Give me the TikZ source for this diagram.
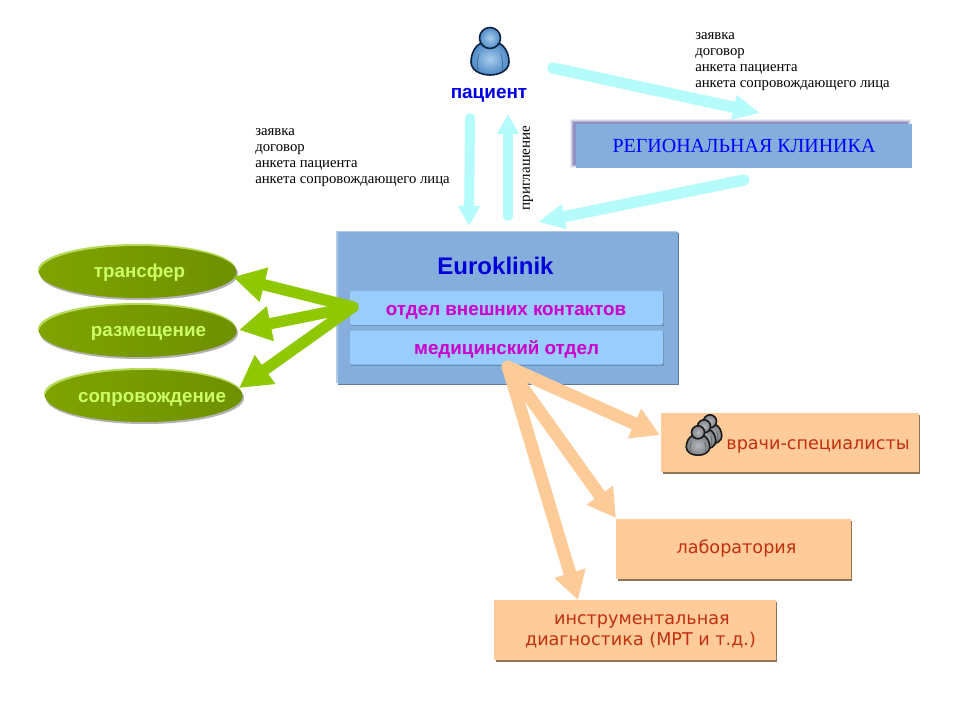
\documentclass[tikz,border=0pt]{standalone}
\usepackage{fontspec}
\setmainfont{Liberation Serif}
\setsansfont{Liberation Sans}
\newfontfamily\verd{DejaVu Sans}
\usetikzlibrary{arrows.meta,shadings,shapes.geometric}
\definecolor{cyanarrow}{HTML}{B5FBFC}
\definecolor{greenarrow}{HTML}{8FC800}
\definecolor{orangearrow}{HTML}{FCCB98}
\definecolor{boxblue}{HTML}{85AEDC}
\definecolor{subblue}{HTML}{99CCFF}
\definecolor{olive}{HTML}{7FA300}
\definecolor{olivedark}{HTML}{6F9000}
\definecolor{limetext}{HTML}{CCFF66}
\definecolor{peach}{HTML}{FFCC99}
\definecolor{peachedge}{HTML}{8F7355}
\definecolor{rust}{HTML}{C03010}
\definecolor{magentatext}{HTML}{CC00CC}
\definecolor{blueIn}{HTML}{A6CCEC}
\definecolor{blueOut}{HTML}{4F8BC6}
\definecolor{blueLine}{HTML}{0E2344}
\definecolor{grayIn}{HTML}{B4B8BC}
\definecolor{grayOut}{HTML}{7E8286}
\definecolor{grayLine}{HTML}{1A1A1A}
\tikzset{
  x=0.75pt,y=-0.75pt,
  cyanline/.style={draw=cyanarrow,line width=7.5pt,line cap=round,-{Triangle[length=15pt,width=15.5pt]}},
  cyanslant/.style={draw=cyanarrow,line width=8.5pt,line cap=round,-{Triangle[length=20pt,width=17.5pt]}},
  greenline/.style={draw=greenarrow,line width=8.5pt,line cap=round,-{Triangle[length=24pt,width=25pt]}},
  orangeline/.style={draw=orangearrow,line width=9.5pt,line cap=round,-{Triangle[length=21pt,width=23pt]}},
  blob/.style={ellipse,minimum width=148pt,minimum height=39pt,inner sep=0pt,left color=olive,right color=olivedark},
  blobtext/.style={inner sep=0pt,text=limetext,text height=7pt,text depth=0pt,font=\sffamily\bfseries\fontsize{14.1}{16}\selectfont},
  peachbox/.style={rectangle,fill=peach,inner sep=0pt},
  peachtext/.style={inner sep=0pt,text=rust,font=\verd\fontsize{13.2}{15.75}\selectfont},
  subbox/.style={rectangle,rounded corners=1.5pt,fill=subblue,inner sep=0pt,minimum width=234.75pt,minimum height=25.5pt},
  subtext/.style={inner sep=0pt,text=magentatext,text height=7pt,text depth=0pt,font=\sffamily\bfseries\fontsize{14.1}{16}\selectfont},
  doc/.style={align=left,inner sep=0pt,font=\fontsize{11.05}{12}\selectfont,anchor=north west},
  pics/personicon/.style={code={
    \draw[draw=#1Line,line width=1.2pt,inner color=#1In,outer color=#1Out]
      (-8,-9) .. controls (-15,-7) and (-19,2) .. (-19,10)
      .. controls (-19,18) and (-10,23) .. (0,23)
      .. controls (10,23) and (19,18) .. (19,10)
      .. controls (19,2) and (15,-7) .. (8,-9) -- cycle;
    \draw[draw=#1Out!80!black,line width=.6pt] (-11,2) .. controls (-13,8) and (-13,14) .. (-12,19);
    \draw[draw=#1Out!80!black,line width=.6pt] (11,2) .. controls (13,8) and (13,14) .. (12,19);
    \draw[draw=#1Line,line width=1.2pt,inner color=#1In,outer color=#1Out] (0,-14) circle [radius=10.5];
  }}
}
\begin{document}
\begin{tikzpicture}
\useasboundingbox[fill=white] (0,0) rectangle (960,720);

% regional clinic
\foreach \g/\o in {3/.07,2/.1,1/.14,0/.2}{
  \fill[blue!45!black,opacity=\o] (573-\g,122-\g) rectangle (908+\g,165+\g);
}
\node[rectangle,minimum width=252pt,minimum height=33pt,inner sep=0pt,fill=boxblue] (reg) at (744,146) {};
\node[inner sep=0pt,text=blue,text height=7pt,text depth=0pt,font=\fontsize{15}{16}\selectfont] (regtext) at (744,148) {РЕГИОНАЛЬНАЯ КЛИНИКА};

% Euroklinik
\fill[boxblue!70!black] (338,233) rectangle (679,385);
\fill[boxblue!65!white] (336,231) rectangle (677,383);
\node[rectangle,minimum width=255pt,minimum height=113.25pt,inner sep=0pt,fill=boxblue] (euro) at (507.5,308) {};
\node[font=\sffamily\bfseries\fontsize{18}{20}\selectfont,text=blue!85!black,inner sep=0pt] (eurotitle) at (495.5,266) {Euroklinik};

\fill[subblue!70!black] (351,293) rectangle (664,326);
\fill[subblue!70!black] (351,332) rectangle (664,366);
\node[subbox] (ext) at (506.5,308) {};
\node[subbox] (med) at (506.5,347.5) {};
\node[subtext] (exttext) at (506,311) {отдел внешних контактов};
\node[subtext] (medtext) at (506.5,349.5) {медицинский отдел};

% ellipses
\foreach \n/\cx/\cy/\tx/\ty/\t in {transfer/138/272/139.5/273/трансфер,razm/138/331/148.5/332/размещение,sopr/144/396/152/397.5/сопровождение}{
  \fill[black!30] (\cx+1,\cy+2) ellipse [x radius=99,y radius=26];
  \fill[greenarrow!65!white] (\cx-1,\cy-2) ellipse [x radius=99,y radius=26];
  \node[blob] (\n) at (\cx,\cy) {};
  \node[blobtext] (\n text) at (\tx,\ty) {\t};
}

% peach boxes
\fill[peachedge] (663,415) rectangle (920,474);
\node[peachbox,minimum width=193.5pt,minimum height=44.5pt] (vrachi) at (790,442.5) {};
\node[peachtext] (vrachitext) at (818,446) {врачи-специалисты};
\fill[peachedge] (618,521) rectangle (852,581);
\node[peachbox,minimum width=176.25pt,minimum height=45pt] (lab) at (733.5,549) {};
\node[peachtext] (labtext) at (736.5,548) {лаборатория};
\fill[peachedge] (496,602) rectangle (777,662);
\node[peachbox,minimum width=211.5pt,minimum height=45pt] (instr) at (635,630) {};
\node[peachtext,align=left] (instrtext) at (640.5,631) {\hspace*{21.75pt}инструментальная\\диагностика (МРТ и т.д.)};

% icons
\pic at (490,52) {personicon=blue};
\pic[scale=.62] at (710,430) {personicon=gray};
\pic[scale=.62] at (704,435) {personicon=gray};
\pic[scale=.62] at (698,441) {personicon=gray};

% texts
\node[inner sep=0pt,text=blue!90!black,text height=7pt,text depth=0pt,font=\sffamily\bfseries\fontsize{14.2}{16}\selectfont] (patient) at (489,94) {пациент};
\node[doc] (docsa) at (255,128.5) {заявка\\договор\\анкета пациента\\анкета сопровождающего лица};
\node[doc] (docsb) at (695,32.5) {заявка\\договор\\анкета пациента\\анкета сопровождающего лица};
\node[rotate=90,inner sep=0pt,font=\fontsize{11.3}{13}\selectfont] (invite) at (528,168) {приглашение};

% connector ends
\coordinate (pa) at (470,118);
\coordinate (ea) at (469,226);
\coordinate (eb) at (508,216);
\coordinate (pb) at (508,114);
\coordinate (pc) at (553,68);
\coordinate (rc) at (760,113);
\coordinate (rd) at (744,180);
\coordinate (ed) at (538,222);
\coordinate (g0) at (353,307);
\coordinate (g1) at (233,277);
\coordinate (g2) at (239,330);
\coordinate (g3) at (239,388);
\coordinate (o0) at (508,367);
\coordinate (o1) at (660,435);
\coordinate (o2) at (616,518);
\coordinate (o3) at (578,600);

\draw[cyanline] (pa) -- (ea);
\draw[cyanline] (eb) -- (pb);
\draw[cyanslant] (pc) -- (rc);
\draw[cyanslant] (rd) -- (ed);
\draw[greenline] (g0) -- (g1);
\draw[greenline] (g0) -- (g2);
\draw[greenline] (g0) -- (g3);
\draw[orangeline] (o0) -- (o1);
\draw[orangeline] (o0) -- (o2);
\draw[orangeline] (o0) -- (o3);
\end{tikzpicture}
\end{document}
